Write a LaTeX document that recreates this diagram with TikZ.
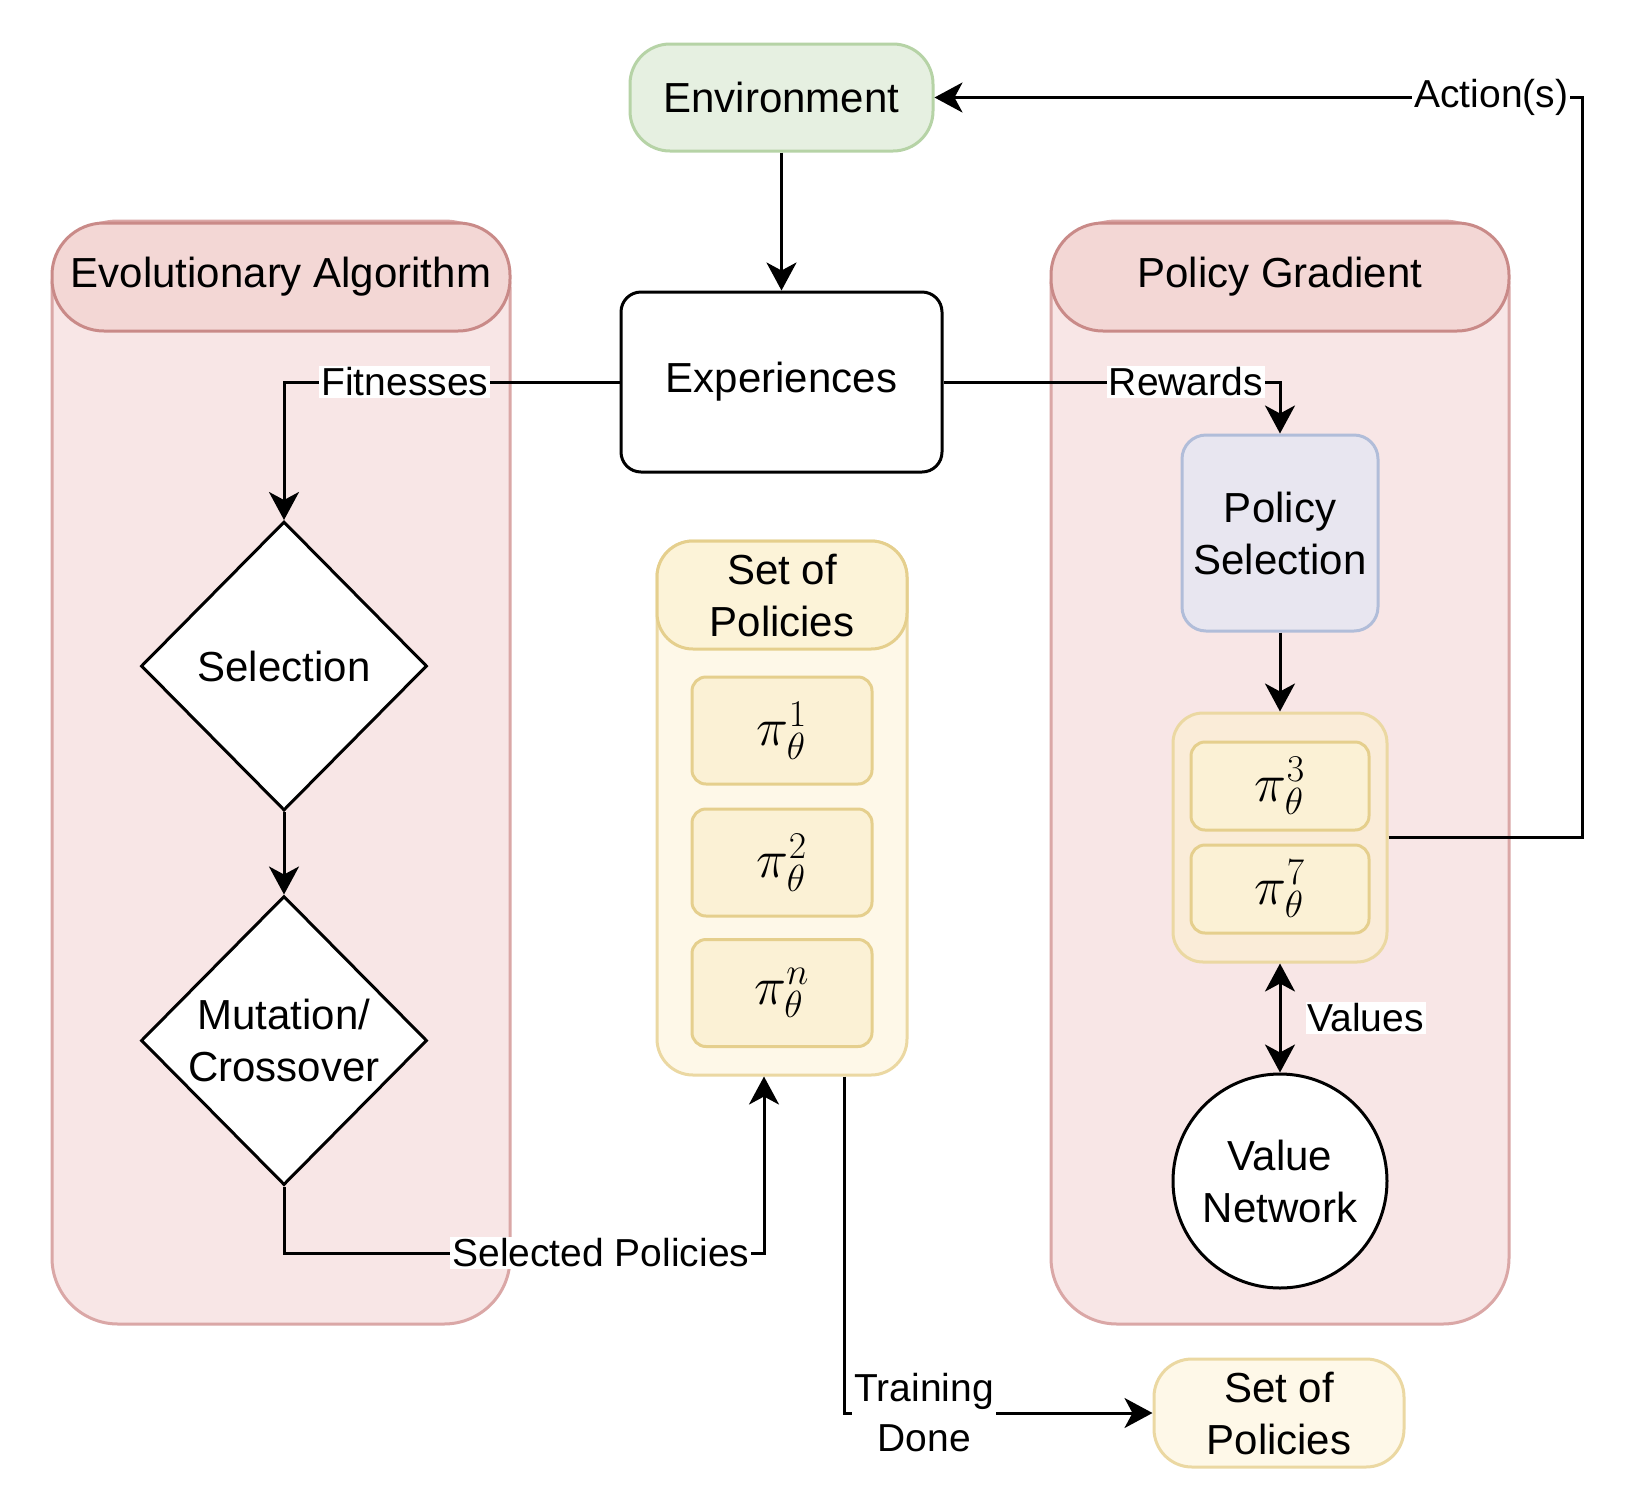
\RequirePackage{fix-cm}
\documentclass[tikz,border=0pt]{standalone}
\usepackage[no-math]{fontspec}
\setmainfont{Liberation Sans}
\usetikzlibrary{shapes.geometric,arrows.meta}

\definecolor{redfill}{HTML}{F8E6E6}
\definecolor{redline}{HTML}{DAA7A6}
\definecolor{redhead}{HTML}{F3D7D5}
\definecolor{redheadline}{HTML}{C98A88}
\definecolor{yelfill}{HTML}{FEF8E8}
\definecolor{yelline}{HTML}{EBD8A2}
\definecolor{yelhead}{HTML}{FCF3D8}
\definecolor{yelbox}{HTML}{FBF1D5}
\definecolor{yelboxline}{HTML}{E5CF8D}
\definecolor{orafill}{HTML}{FAECD8}
\definecolor{grnfill}{HTML}{E6F0E1}
\definecolor{grnline}{HTML}{B6D3A6}
\definecolor{blufill}{HTML}{E8E6F0}
\definecolor{bluline}{HTML}{B1BDD9}

\begin{document}
\begin{tikzpicture}[x=0.5pt,y=-0.5pt,
	every node/.style={inner sep=0pt, align=center, font=\fontsize{21}{26}\selectfont},
	arr/.style={line width=1.5pt, -{Stealth[length=14pt,width=15pt,inset=4pt]}},
	dblarr/.style={line width=1.5pt, {Stealth[length=14pt,width=15pt,inset=4pt]}-{Stealth[length=14pt,width=15pt,inset=4pt]}},
	lbl/.style={fill=white, inner sep=1pt, font=\fontsize{19.5}{25}\selectfont},
	lane/.style={draw=redline, fill=redfill, line width=1.5pt, rounded corners=33pt, minimum width=229pt, minimum height=551.5pt},
	lanehead/.style={draw=redheadline, fill=redhead, line width=1.5pt, rounded corners=26pt, minimum width=229pt, minimum height=54pt},
	pibox/.style={draw=yelboxline, fill=yelbox, line width=1.5pt, rounded corners=7pt, font=\fontsize{27}{30}\selectfont},
	blackbox/.style={draw, fill=white, line width=1.5pt},
	decide/.style={blackbox, diamond, aspect=1, minimum width=143pt, minimum height=144.5pt}]
	\path[fill=white] (0,0) rectangle (1634,1500);
	\node[lane] (ealane) at (281,772.5) {};
	\node[lanehead] (eahead) at (281,277) {Evolutionary Algorithm};
	\node[lane] (pglane) at (1280,772.5) {};
	\node[lanehead] (pghead) at (1280,277) {Policy Gradient};
	\node[draw=yelline, fill=yelfill, line width=1.5pt, rounded corners=18pt, minimum width=125pt, minimum height=267pt] (setc) at (782,808) {};
	\node[draw=yelboxline, fill=yelhead, line width=1.5pt, rounded corners=18pt, minimum width=125pt, minimum height=54pt] (sethead) at (782,595) {Set of\\Policies};
	\foreach \k/\y in {1/730.5, 2/862.5, n/993}
		\node[pibox, minimum width=90pt, minimum height=53.5pt] (pi\k) at (782,\y) {$\pi^{\k}_{\theta}$};
	\node[draw=grnline, fill=grnfill, line width=1.5pt, rounded corners=20pt, minimum width=151.5pt, minimum height=53.5pt] (env) at (781.5,97.5) {Environment};
	\node[blackbox, rounded corners=10pt, minimum width=160.5pt, minimum height=90pt] (exp) at (781.5,382) {Experiences};
	\node[decide] (sel) at (284,666) {Selection};
	\node[decide] (mut) at (284,1040.5) {Mutation/\\Crossover};
	\node[draw=bluline, fill=blufill, line width=1.5pt, rounded corners=12pt, minimum width=98pt, minimum height=98pt] (ps) at (1280,533) {Policy\\Selection};
	\node[draw=yelline, fill=orafill, line width=1.5pt, rounded corners=15pt, minimum width=107pt, minimum height=124.5pt] (pic) at (1280,837.5) {};
	\node[pibox, minimum width=89pt, minimum height=44pt] (pi3) at (1280,786) {$\pi^{3}_{\theta}$};
	\node[pibox, minimum width=89pt, minimum height=44pt] (pi7) at (1280,889) {$\pi^{7}_{\theta}$};
	\node[blackbox, circle, minimum size=107pt] (vn) at (1280,1181) {Value\\Network};
	\node[draw=yelline, fill=yelfill, line width=1.5pt, rounded corners=19pt, minimum width=125pt, minimum height=54pt] (set2) at (1279,1413) {Set of\\Policies};
	\coordinate (actcorner) at (1582,837.5);
	\coordinate (selcorner) at (764,1253);
	\draw[arr] (env) -- (exp);
	\draw[arr] (exp.west) -| (sel.north) node[lbl, pos=0.32] {Fitnesses};
	\draw[arr] (exp.east) -| (ps.north) node[lbl, pos=0.36] {Rewards};
	\draw[arr] (sel) -- (mut);
	\draw[arr] (ps) -- (pic);
	\draw[dblarr] (pic) -- (vn) node[lbl, midway, right=12pt] {Values};
	\draw[arr] (pic.east) -- (actcorner) |- (env.east) node[lbl, pos=0.57] {Action(s)};
	\draw[arr] (mut.south) |- (selcorner) node[lbl, pos=0.83] {Selected Policies} -- (selcorner |- setc.south);
	\draw[arr] ([xshift=31pt]setc.south) |- (set2.west) node[lbl, pos=0.63] {Training\\Done};
\end{tikzpicture}
\end{document}
